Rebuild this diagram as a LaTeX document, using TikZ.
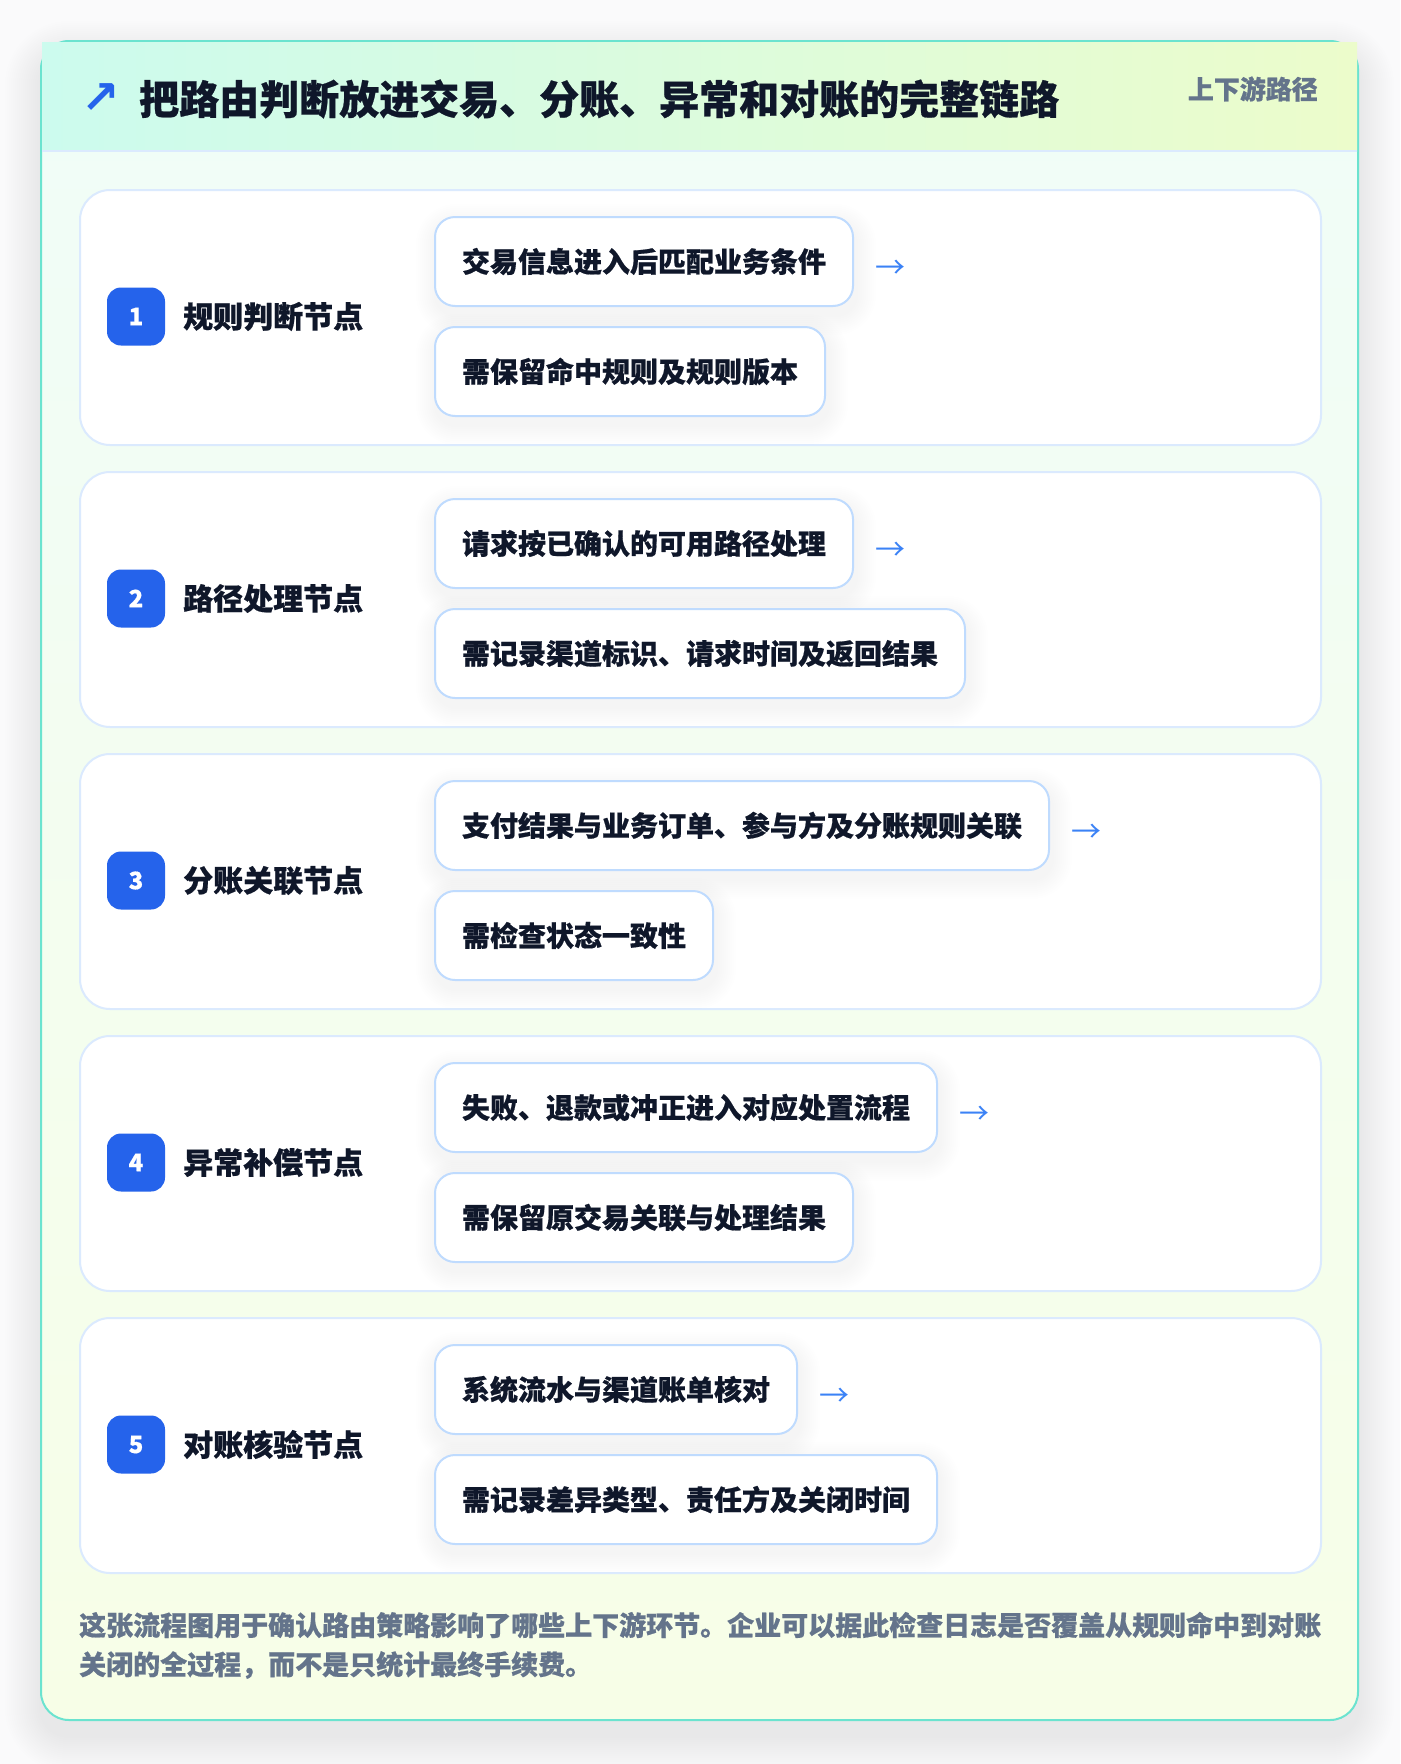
\documentclass[tikz,border=0pt]{standalone}
\usepackage{fontspec}
\setmainfont{Noto Sans CJK SC}
\newfontfamily\heavy{Noto Sans CJK SC Black}[FakeBold=0.6]
\newfontfamily\symfont{DejaVu Sans}
\usetikzlibrary{positioning,calc}
\pgfdeclarelayer{bg}
\pgfdeclarelayer{shad}
\pgfsetlayers{bg,shad,main}
\definecolor{pagebg}{HTML}{FAFAFB}
\definecolor{outerb}{HTML}{6BE3CF}
\definecolor{headl}{HTML}{CCFBEE}
\definecolor{headr}{HTML}{ECFCCB}
\definecolor{bodytop}{HTML}{F0FDF8}
\definecolor{bodybot}{HTML}{F7FEE7}
\definecolor{cardb}{HTML}{DBEAFE}
\definecolor{boxb}{HTML}{BFDBFE}
\definecolor{badgec}{HTML}{2563EB}
\definecolor{ink}{HTML}{0F172A}
\definecolor{muted}{HTML}{64748B}
\definecolor{arrc}{HTML}{3B82F6}
\begin{document}
\begin{tikzpicture}[x=1pt,y=-1pt,
  cardst/.style={draw=cardb, line width=2pt, fill=white, rounded corners=30pt,
    minimum width=1241pt, minimum height=255pt, anchor=north west, inner sep=0pt},
  ibox/.style={draw=boxb, line width=2pt, fill=white, rounded corners=20pt,
    inner xsep=27pt, inner ysep=0pt, minimum height=89pt, anchor=west, text=ink,
    font=\heavy\fontsize{28}{34}\selectfont},
  shadowst/.style={fill=black, fill opacity=0.0045},
  badgest/.style={fill=badgec, rounded corners=14pt, minimum width=58pt, minimum height=58pt,
    inner sep=0pt, text=white, font=\heavy\fontsize{24}{28}\selectfont},
  labst/.style={anchor=west, inner sep=0pt, text=ink, font=\heavy\fontsize{30}{36}\selectfont},
  arrst/.style={anchor=west, inner sep=0pt, text=arrc, font=\mdseries\fontsize{30}{34}\selectfont},
  footst/.style={anchor=west, inner sep=0pt, text=muted, font=\heavy\fontsize{27}{32}\selectfont}
]
\useasboundingbox (0,0) rectangle (1400,1764);
\begin{pgfonlayer}{bg}
\fill[pagebg] (0,0) rectangle (1400,1764);
% outer card shadow
\foreach \i in {2,4,...,36}{
  \fill[black, fill opacity=0.0045, rounded corners=28+\i]
    (41-\i,41-\i+16) rectangle (1358+\i,1720+\i+16);
}
\shade[top color=bodytop, bottom color=bodybot, rounded corners=28pt] (41,41) rectangle (1358,1720);
\draw[outerb, line width=2pt, rounded corners=28pt] (41,41) rectangle (1358,1720);
% header
\shade[left color=headl, right color=headr] (42,42) rectangle (1357,151);
\draw[cardb, line width=2pt] (42,151) -- (1357,151);
\end{pgfonlayer}
\node[text=badgec, inner sep=0pt, font=\symfont\bfseries\fontsize{46}{50}\selectfont] (icon) at (101,99) {↗};
\node[anchor=west, inner sep=0pt, text=ink, font=\heavy\fontsize{40}{48}\selectfont] (title) at (139,99)
  {把路由判断放进交易、分账、异常和对账的完整链路};
\node[anchor=east, inner sep=0pt, text=muted, font=\heavy\fontsize{26}{30}\selectfont] (tag) at (1318,89) {上下游路径};
% step cards
\foreach \k/\lab/\ta/\tb in {
  0/规则判断节点/交易信息进入后匹配业务条件/需保留命中规则及规则版本,
  1/路径处理节点/请求按已确认的可用路径处理/需记录渠道标识、请求时间及返回结果,
  2/分账关联节点/支付结果与业务订单、参与方及分账规则关联/需检查状态一致性,
  3/异常补偿节点/失败、退款或冲正进入对应处置流程/需保留原交易关联与处理结果,
  4/对账核验节点/系统流水与渠道账单核对/需记录差异类型、责任方及关闭时间}{
  \pgfmathsetmacro\ctop{189+282*\k}
  \pgfmathtruncatemacro\num{\k+1}
  \begin{pgfonlayer}{bg}
    \node[cardst] (card\k) at (79,\ctop) {};
  \end{pgfonlayer}
  \node[badgest] (badge\k) at (136,\ctop+127.5) {\num};
  \node[labst] (lab\k) at (183,\ctop+127.5) {\lab};
  \node[ibox] (ba\k) at (434,\ctop+72.5) {\ta};
  \node[ibox] (bb\k) at (434,\ctop+182.5) {\tb};
  \node[arrst] (arr\k) at ($(ba\k.east)+(21,8)$) {→};
  \begin{pgfonlayer}{shad}
    \foreach \n in {ba\k,bb\k}{
      \foreach \i in {2,4,...,20}{
        \fill[shadowst, rounded corners=20+\i]
          ($(\n.south west)+(-\i+2,8+\i)$) rectangle ($(\n.north east)+(\i+2,8-\i)$);
      }
    }
  \end{pgfonlayer}
}
% footer
\node[footst] (f1) at (79,1625) {这张流程图用于确认路由策略影响了哪些上下游环节。企业可以据此检查日志是否覆盖从规则命中到对账};
\node[footst] (f2) at (79,1665) {关闭的全过程，而不是只统计最终手续费。};
\end{tikzpicture}
\end{document}
